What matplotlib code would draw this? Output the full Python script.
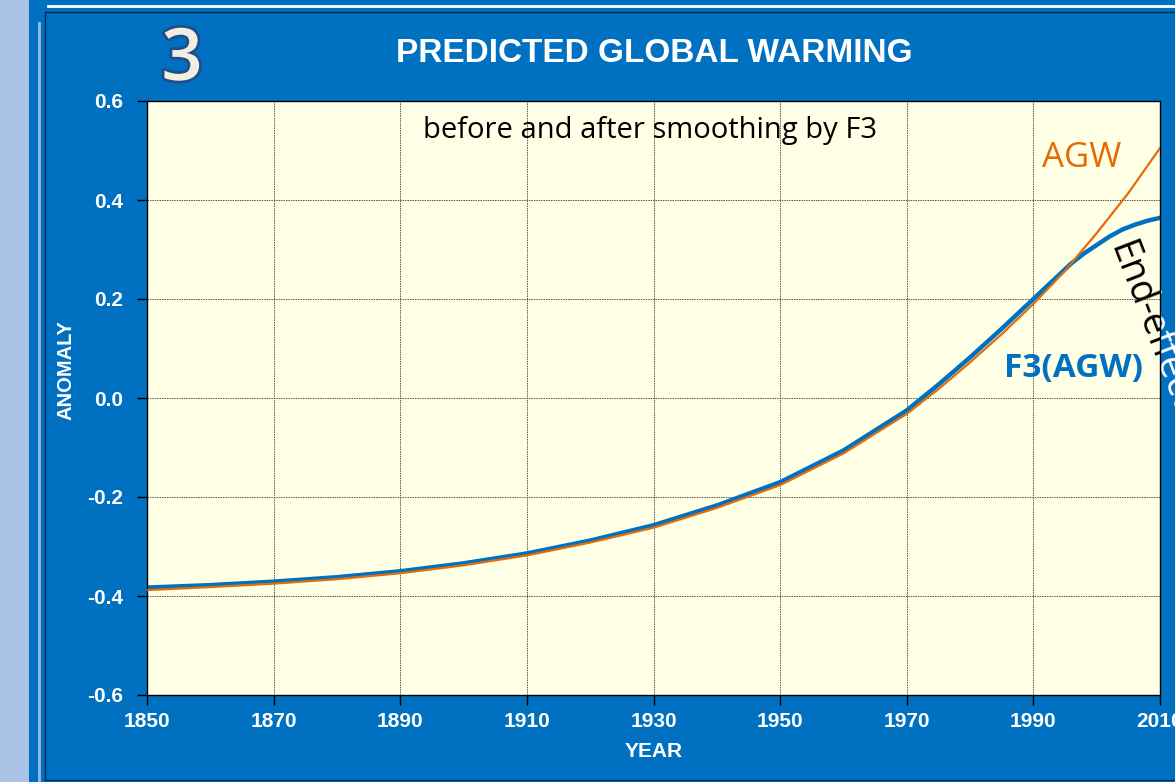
import matplotlib.pyplot as plt
import matplotlib.patheffects as pe
from matplotlib.patches import Rectangle
from matplotlib.lines import Line2D

# values
agw_years = [1850, 1860, 1870, 1880, 1890, 1900, 1910, 1920, 1930, 1940,
             1950, 1960, 1970, 1975, 1980, 1985, 1990, 1995, 2000, 2005, 2010]
agw_vals = [-0.388, -0.382, -0.375, -0.366, -0.354, -0.338, -0.318, -0.292,
            -0.262, -0.222, -0.176, -0.112, -0.032, 0.018, 0.072, 0.129,
            0.19, 0.257, 0.333, 0.414, 0.505]

f3_years = [1850, 1860, 1870, 1880, 1890, 1900, 1910, 1920, 1930, 1940,
            1950, 1960, 1970, 1975, 1980, 1985, 1990, 1992, 1994, 1996, 1998,
            2000, 2002, 2004, 2006, 2008, 2010]
f3_vals = [-0.383, -0.378, -0.371, -0.362, -0.350, -0.334, -0.314, -0.288,
           -0.257, -0.217, -0.170, -0.106, -0.025, 0.027, 0.082, 0.14, 0.2,
           0.224, 0.248, 0.272, 0.292, 0.309, 0.326, 0.34, 0.35, 0.358, 0.364]

x_ticks = list(range(1850, 2011, 20))
y_ticks = [-0.6, -0.4, -0.2, 0.0, 0.2, 0.4, 0.6]

BLUE = "#0070c0"
ORANGE = "#e36c09"
W, H = 1175, 782

fig = plt.figure(figsize=(W / 100, H / 100), dpi=100)
fig.patch.set_facecolor(BLUE)

# slide decorations
fig.patches.append(Rectangle((0, 0), 29 / W, 1, transform=fig.transFigure,
                             facecolor="#a9c3e6", edgecolor="none", zorder=-5))
fig.lines.append(Line2D([39 / W, 39 / W], [0, 1 - 23 / H], transform=fig.transFigure,
                        color="#9fb8e0", lw=2, zorder=-4))
fig.lines.append(Line2D([45 / W, 45 / W, 1], [2 / H, 1 - 12 / H, 1 - 12 / H],
                        transform=fig.transFigure, color="#0a2a50", lw=1, zorder=-4))
fig.lines.append(Line2D([45 / W, 1], [2 / H, 2 / H],
                        transform=fig.transFigure, color="#0a2a50", lw=1, zorder=-4))
fig.lines.append(Line2D([48 / W, 1], [1 - 6 / H, 1 - 6 / H],
                        transform=fig.transFigure, color="white", lw=2, zorder=-4))

ax = fig.add_axes([147 / W, 1 - 695 / H, (1160 - 147) / W, (695 - 101) / H])
ax.set_facecolor("#ffffe5")

ax.plot(agw_years, agw_vals, color=ORANGE, lw=1.6, zorder=3)
ax.plot(f3_years, f3_vals, color=BLUE, lw=3.2, zorder=2)

ax.set_xlim(1850, 2010)
ax.set_ylim(-0.6, 0.6)
ax.set_xticks(x_ticks)
ax.set_yticks(y_ticks)
ax.set_yticklabels([f"{v:.1f}" for v in y_ticks])
ax.grid(True, color="#555555", linestyle=(0, (1.5, 1)), lw=0.7)
ax.tick_params(colors="black", labelcolor="white", direction="out", length=7,
               width=1, labelsize=15)
ax.tick_params(axis="y", pad=10)
ax.tick_params(axis="x", pad=5)
for lab in ax.get_xticklabels() + ax.get_yticklabels():
    lab.set_fontfamily("Liberation Sans")
    lab.set_fontweight("bold")
for s in ax.spines.values():
    s.set_color("black")
    s.set_linewidth(1)

ax.set_xlabel("YEAR", color="white", fontsize=15, fontweight="bold",
              family="Liberation Sans", labelpad=8)
ax.set_ylabel("ANOMALY", color="white", fontsize=14.5, fontweight="bold",
              family="Liberation Sans")
ax.yaxis.set_label_coords(-72 / 1013, 0.547)

fig.text(654 / W, 1 - 54 / H, "PREDICTED GLOBAL WARMING", color="white",
         fontsize=24, fontweight="bold", family="Liberation Sans",
         ha="center", va="center")
fig.text(182 / W, 1 - 61 / H, "3", color="#f3efe0", fontsize=52,
         fontweight="semibold", family="Open Sans", ha="center", va="center",
         path_effects=[pe.withStroke(linewidth=4, foreground="#1f4e8c")])

ax.text(0.4966, 0.951, "before and after smoothing by F3",
        transform=ax.transAxes, color="black", fontsize=21, family="Open Sans",
        ha="center", va="center")
ax.text(1997.7, 0.485, "AGW", color=ORANGE, fontsize=25, family="Open Sans",
        ha="center", va="center")
ax.text(1996.4, 0.059, "F3(AGW)", color=BLUE, fontsize=24, fontweight="bold",
        family="Open Sans", ha="center", va="center")

# "End-effect" runs off the plot: black inside, white on the blue frame
ee_kw = dict(fontsize=27, family="Open Sans", rotation=-69,
             rotation_mode="anchor", ha="left", va="top")
ax.text(2006.3, 0.326, "End-effect", color="black", clip_on=True, **ee_kw)
x0, y0 = ax.transData.transform((2006.3, 0.326))
fig.text(x0 / W, y0 / H, "End-effect", color="white", zorder=-1, **ee_kw)

fig.savefig("out.png", dpi=100, facecolor=fig.get_facecolor())
